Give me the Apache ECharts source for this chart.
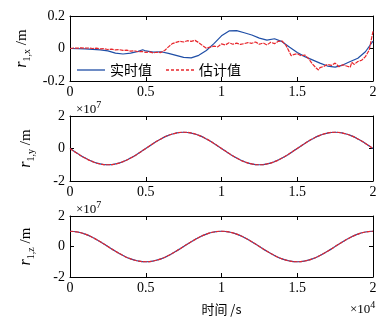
<!DOCTYPE html>
<html>
<head>
<meta charset="utf-8">
<script src="https://cdn.jsdelivr.net/npm/echarts@6/dist/echarts.min.js"></script>
<style>
  html, body { margin: 0; padding: 0; background: #fff; }
  #main { width: 389px; height: 317px; }
</style>
</head>
<body>
<div id="main"></div>
<script>
// 时间轴 (×10^4 s)
var xTicks = [0, 0.5, 1, 1.5, 2];

// r1,x 实时值 (m)
var tBlueX = [0, 0.1, 0.2, 0.25, 0.3, 0.35, 0.4, 0.45, 0.48, 0.5, 0.55, 0.6, 0.65, 0.7, 0.75, 0.8, 0.85, 0.9, 0.95, 1.0,
  1.05, 1.1, 1.15, 1.2, 1.25, 1.3, 1.35, 1.4, 1.45, 1.5, 1.55, 1.6, 1.65, 1.7, 1.75, 1.8, 1.85, 1.9, 1.95, 2.0];
var blueX = [0, -0.002, -0.008, -0.015, -0.028, -0.034, -0.028, -0.018, -0.008, -0.015, -0.022, -0.02, -0.03, -0.042, -0.055, -0.058, -0.042, -0.012, 0.03, 0.078,
  0.108, 0.11, 0.097, 0.083, 0.064, 0.052, 0.06, 0.042, 0.008, -0.025, -0.05, -0.07, -0.09, -0.108, -0.115, -0.102, -0.08, -0.06, -0.02, 0.045];

// r1,x 估计值 (m)
var tRedX = [0, 0.025, 0.05, 0.075, 0.1, 0.125, 0.15, 0.175, 0.2, 0.225, 0.25, 0.275, 0.3, 0.325, 0.35, 0.375, 0.4, 0.425, 0.45, 0.475,
  0.5, 0.525, 0.55, 0.575, 0.6, 0.625, 0.65, 0.675, 0.7, 0.725, 0.75, 0.775, 0.8, 0.825, 0.85, 0.875, 0.9, 0.925, 0.95, 0.975,
  1.0, 1.025, 1.05, 1.075, 1.1, 1.125, 1.15, 1.175, 1.2, 1.225, 1.25, 1.275, 1.3, 1.325, 1.35, 1.375, 1.4, 1.425, 1.45, 1.46,
  1.475, 1.5, 1.525, 1.55, 1.575, 1.6, 1.625, 1.64, 1.65, 1.675, 1.7, 1.725, 1.75, 1.775, 1.8, 1.825, 1.85, 1.86, 1.875, 1.9,
  1.925, 1.95, 1.975, 1.99, 2.0];
var redX = [0, 0.003, 0.002, 0.004, 0.002, 0.003, 0, 0.002, -0.002, -0.001, -0.006, -0.004, -0.009, -0.007, -0.012, -0.01, -0.016, -0.014, -0.02, -0.018,
  -0.024, -0.021, -0.027, -0.023, -0.025, -0.012, 0.01, 0.03, 0.038, 0.045, 0.04, 0.048, 0.044, 0.05, 0.036, 0.018, 0.002, 0.008, 0.015, 0.01,
  0.028, 0.022, 0.035, 0.026, 0.033, 0.025, 0.03, 0.036, 0.032, 0.04, 0.026, 0.034, 0.022, 0.038, 0.03, 0.044, 0.046, 0.02, -0.025, -0.045,
  -0.038, -0.032, -0.045, -0.04, -0.062, -0.095, -0.12, -0.132, -0.118, -0.11, -0.098, -0.104, -0.09, -0.112, -0.1, -0.108, -0.115, -0.085, -0.098, -0.08,
  -0.072, -0.05, -0.01, 0.06, 0.105];

// r1,y / r1,z (×10^7 m)，采样间隔 0.05
var tYZ = [0, 0.05, 0.1, 0.15, 0.2, 0.25, 0.3, 0.35, 0.4, 0.45, 0.5, 0.55, 0.6, 0.65, 0.7, 0.75, 0.8, 0.85, 0.9, 0.95, 1.0,
  1.05, 1.1, 1.15, 1.2, 1.25, 1.3, 1.35, 1.4, 1.45, 1.5, 1.55, 1.6, 1.65, 1.7, 1.75, 1.8, 1.85, 1.9, 1.95, 2.0];
var valY = [0, -0.31, -0.59, -0.81, -0.95, -1, -0.95, -0.81, -0.59, -0.31, 0, 0.31, 0.59, 0.81, 0.95, 1, 0.95, 0.81, 0.59, 0.31, 0,
  -0.31, -0.59, -0.81, -0.95, -1, -0.95, -0.81, -0.59, -0.31, 0, 0.31, 0.59, 0.81, 0.95, 1, 0.95, 0.81, 0.59, 0.31, 0];
var valZ = [1, 0.95, 0.81, 0.59, 0.31, 0, -0.31, -0.59, -0.81, -0.95, -1, -0.95, -0.81, -0.59, -0.31, 0, 0.31, 0.59, 0.81, 0.95, 1,
  0.95, 0.81, 0.59, 0.31, 0, -0.31, -0.59, -0.81, -0.95, -1, -0.95, -0.81, -0.59, -0.31, 0, 0.31, 0.59, 0.81, 0.95, 1];

var blue = '#1f4ea6';
var red = '#e8262c';
var serif = '"Liberation Serif", "DejaVu Serif", serif';
var cjk = '"Noto Sans CJK SC", sans-serif';

function pairs(xs, ys) {
  return xs.map(function (x, i) { return [x, ys[i]]; });
}

var tops = [16, 116, 216];
var grids = [], xAxes = [], yAxes = [];
var yRanges = [[-0.2, 0.2, 0.2], [-2, 2, 2], [-2, 2, 2]];
var subs = ['1,x', '1,y', '1,z'];

tops.forEach(function (top, g) {
  grids.push({ left: 70, top: top, width: 303, height: 65 });
  // 下/上 x 轴
  xAxes.push({
    type: 'value', gridIndex: g, min: 0, max: 2, interval: 0.5, position: 'bottom',
    axisLine: { onZero: false, lineStyle: { color: '#000', width: 1 } },
    axisTick: { inside: true, length: 4, lineStyle: { color: '#000' } },
    axisLabel: { color: '#000', fontFamily: serif, fontSize: 14, margin: 4,
      formatter: function (v) { return String(v); } },
    splitLine: { show: false },
    name: g === 2 ? '时间 /s' : '',
    nameLocation: 'middle', nameGap: 26,
    nameTextStyle: { color: '#000', fontFamily: cjk, fontSize: 13 }
  });
  xAxes.push({
    type: 'value', gridIndex: g, min: 0, max: 2, interval: 0.5, position: 'top',
    axisLine: { onZero: false, lineStyle: { color: '#000', width: 1 } },
    axisTick: { inside: true, length: 4, lineStyle: { color: '#000' } },
    axisLabel: { show: false }, splitLine: { show: false }
  });
  var r = yRanges[g];
  yAxes.push({
    type: 'value', gridIndex: g, min: r[0], max: r[1], interval: r[2], position: 'left',
    axisLine: { onZero: false, lineStyle: { color: '#000', width: 1 } },
    axisTick: { inside: true, length: 4, lineStyle: { color: '#000' } },
    axisLabel: { color: '#000', fontFamily: serif, fontSize: 14, margin: 5 },
    splitLine: { show: false },
    name: '{r|r}{s|' + subs[g] + '}{n| /m}',
    nameLocation: 'middle', nameGap: 36, nameRotate: 90,
    nameTextStyle: {
      rich: {
        r: { fontFamily: serif, fontStyle: 'italic', fontSize: 16, color: '#000', verticalAlign: 'bottom' },
        s: { fontFamily: serif, fontSize: 10, color: '#000', verticalAlign: 'bottom', padding: [0, 0, -2, 0] },
        n: { fontFamily: serif, fontSize: 15, color: '#000', verticalAlign: 'bottom' }
      }
    }
  });
  yAxes.push({
    type: 'value', gridIndex: g, min: r[0], max: r[1], interval: r[2], position: 'right',
    axisLine: { onZero: false, lineStyle: { color: '#000', width: 1 } },
    axisTick: { inside: true, length: 4, lineStyle: { color: '#000' } },
    axisLabel: { show: false }, splitLine: { show: false }
  });
});

function line(name, g, data, color, dashed, smooth) {
  return {
    name: name, type: 'line', xAxisIndex: g * 2, yAxisIndex: g * 2,
    data: data, symbol: 'none', smooth: smooth, animation: false,
    lineStyle: { color: color, width: 1.2, type: dashed ? [4, 1] : 'solid' },
    itemStyle: { color: color }
  };
}

var series = [
  line('实时值', 0, pairs(tBlueX, blueX), blue, false, false),
  line('估计值', 0, pairs(tRedX, redX), red, true, false),
  line('实时值', 1, pairs(tYZ, valY), blue, false, true),
  line('估计值', 1, pairs(tYZ, valY), red, true, true),
  line('实时值', 2, pairs(tYZ, valZ), blue, false, true),
  line('估计值', 2, pairs(tYZ, valZ), red, true, true)
];

function expLabel(base, exp, left, top) {
  return {
    type: 'text', left: left, top: top,
    style: {
      text: '{a|' + base + '}{b|' + exp + '}',
      rich: {
        a: { fontFamily: serif, fontSize: 13, fill: '#000', verticalAlign: 'bottom' },
        b: { fontFamily: serif, fontSize: 10, fill: '#000', verticalAlign: 'top', padding: [0, 0, 6, 0] }
      }
    }
  };
}

var solidIcon = 'path://M0,0H28V1H0Z';
var dashIcon = 'path://M0,0h3v1h-3z M5,0h3v1h-3z M10,0h3v1h-3z M15,0h3v1h-3z M20,0h3v1h-3z M25,0h3v1h-3z';

var chart = echarts.init(document.getElementById('main'), null, { renderer: 'canvas' });
chart.setOption({
  backgroundColor: '#fff',
  animation: false,
  grid: grids,
  xAxis: xAxes,
  yAxis: yAxes,
  legend: {
    data: [{ name: '实时值', icon: solidIcon }, { name: '估计值', icon: dashIcon }],
    left: 72, top: 58,
    itemWidth: 28, itemHeight: 1.3, itemGap: 14,
    symbolKeepAspect: false,
    textStyle: { fontFamily: cjk, fontSize: 14, color: '#000' }
  },
  graphic: [
    expLabel('×10', '7', 76, 100),
    expLabel('×10', '7', 76, 200),
    expLabel('×10', '4', 350, 300)
  ],
  series: series
});
</script>
</body>
</html>
